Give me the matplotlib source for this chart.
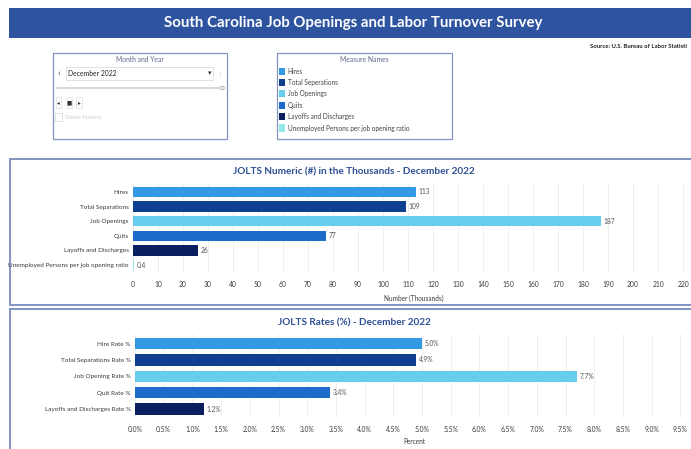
import matplotlib.pyplot as plt
from matplotlib.patches import Rectangle, Circle
from matplotlib.ticker import FuncFormatter

W, H = 691, 449

# data
month_label = "December 2022"
numeric_names = ["Hires", "Total Separations", "Job Openings", "Quits",
                 "Layoffs and Discharges", "Unemployed Persons per job opening ratio"]
numeric_values = [113, 109, 187, 77, 26, 0.4]
numeric_ticks = list(range(0, 221, 10))

rate_names = ["Hire Rate %", "Total Separations Rate %", "Job Opening Rate %",
              "Quit Rate %", "Layoffs and Discharges Rate %"]
rate_values = [5.0, 4.9, 7.7, 3.4, 1.2]
rate_ticks = [i * 0.5 for i in range(20)]

legend_names = ["Hires", "Total Seperations", "Job Openings", "Quits",
                "Layoffs and Discharges", "Unemployed Persons per job opening ratio"]
colors = ["#3399E3", "#0E3F91", "#66CDED", "#1C6DCB", "#0B1F5E", "#8EEBE6"]

NAVY = "#2C4F95"
TEXT = "#3a3a3a"
BORDER = "#8294C2"

plt.rcParams["font.family"] = ["Lato", "DejaVu Sans"]


def fx(x):
    return x / W


def fy(y):
    return 1 - y / H


def box(fig, x0, y0, x1, y1, **kw):
    r = Rectangle((fx(x0), fy(y1)), fx(x1) - fx(x0), fy(y0) - fy(y1),
                  transform=fig.transFigure, **kw)
    fig.add_artist(r)
    return r


def txt(fig, x, y, s, **kw):
    kw.setdefault("va", "center")
    fig.text(fx(x), fy(y), s, **kw)


def bar_panel(fig, top, bottom, x0_px, px_per_unit, centers0, step,
              names, values, ticks, fmt, title, xlabel, title_y, xlabel_y):
    ax = fig.add_axes([fx(x0_px), fy(bottom), fx(W) - fx(x0_px), fy(top) - fy(bottom)])
    ax.patch.set_visible(False)
    n = len(values)
    ypos = list(range(n))
    ax.barh(ypos, values, height=0.7, color=colors[:n], edgecolor="none", zorder=3)
    ax.set_xlim(0, (W - x0_px) / px_per_unit)
    ax.set_ylim((bottom - centers0) / step, (top - centers0) / step)
    ax.set_xticks(ticks)
    ax.xaxis.set_major_formatter(FuncFormatter(fmt))
    ax.set_yticks(ypos)
    ax.set_yticklabels(names)
    ax.tick_params(axis="x", length=0, labelsize=4.9, labelcolor=TEXT, pad=6)
    ax.tick_params(axis="y", length=0, labelsize=4.6, labelcolor=TEXT, pad=3)
    ax.grid(axis="x", color="#ececec", linewidth=0.6, zorder=0)
    for s in ax.spines.values():
        s.set_visible(False)
    for i, v in enumerate(values):
        ax.text(v + 3 / px_per_unit, i, fmt(v, None),
                fontsize=4.8, color="#555555", va="center", ha="left")
    txt(fig, 354, title_y, title, ha="center", fontsize=7.2, fontweight="bold", color=NAVY)
    txt(fig, 414, xlabel_y, xlabel, ha="center", fontsize=4.7, color=TEXT)
    return ax


def num_fmt(v, pos):
    return "%g" % v


def pct_fmt(v, pos):
    return "%.1f%%" % v


fig = plt.figure(figsize=(W / 100, H / 100), dpi=100)
fig.patch.set_facecolor("white")

# header banner
box(fig, 9, 8, W, 38, facecolor="#2E54A0", edgecolor="none")
txt(fig, 353, 23, "South Carolina Job Openings and Labor Turnover Survey",
    ha="center", fontsize=10.8, fontweight="bold", color="white")
txt(fig, 590, 46, "Source: U.S. Bureau of Labor Statisti", ha="left",
    fontsize=4.3, color="#222222", fontweight="bold")

# month filter card
box(fig, 53, 53, 227, 139, facecolor="white", edgecolor=BORDER, linewidth=0.9)
txt(fig, 140, 59, "Month and Year", ha="center", fontsize=4.9, color="#5d6a8c")
box(fig, 66, 67, 213, 80, facecolor="white", edgecolor="#dddddd", linewidth=0.6)
txt(fig, 59, 73, "\u2039", ha="center", fontsize=7, color="#555555")
txt(fig, 68, 73, month_label, ha="left", fontsize=4.9, color="#222222")
txt(fig, 210, 73, "\u25be", ha="center", fontsize=5, color="#333333")
txt(fig, 220, 73, "\u203a", ha="center", fontsize=7, color="#cccccc")
fig.add_artist(plt.Line2D([fx(57), fx(220)], [fy(88), fy(88)],
                          transform=fig.transFigure, color="#d0d0d0", linewidth=1.2))
fig.add_artist(Circle((fx(222), fy(88)), 2.2 / W, transform=fig.transFigure,
                      facecolor="white", edgecolor="#999999", linewidth=0.6))
for xb, sym in ((58.5, "\u25c2"), (69.5, "\u25a0"), (79, "\u25b8")):
    box(fig, xb - 3, 97, xb + 3, 108, facecolor="white", edgecolor="#dddddd", linewidth=0.5)
    txt(fig, xb, 102.5, sym, ha="center", fontsize=4, color="#333333")
box(fig, 55, 113, 62, 121, facecolor="white", edgecolor="#dddddd", linewidth=0.6)
txt(fig, 65, 117, "Show history", ha="left", fontsize=4.6, color="#cccccc")

# legend card
box(fig, 277, 53, 452, 139, facecolor="white", edgecolor=BORDER, linewidth=0.9)
txt(fig, 364, 59, "Measure Names", ha="center", fontsize=4.9, color="#5d6a8c")
for i, (name, c) in enumerate(zip(legend_names, colors)):
    yc = 71 + i * 11.4
    box(fig, 278.5, yc - 3.5, 285, yc + 3.5, facecolor=c, edgecolor="none")
    txt(fig, 287.5, yc, name, ha="left", fontsize=4.7, color="#444444")

# panels (drawn below the chart axes)
box(fig, 10, 159, W + 2, 305, facecolor="white", edgecolor=BORDER, linewidth=1.4, zorder=-1)
box(fig, 10, 309, W + 2, H + 2, facecolor="white", edgecolor=BORDER, linewidth=1.4, zorder=-1)

bar_panel(fig, 183, 273, 133, 2.5, 192, 14.6,
          numeric_names, numeric_values, numeric_ticks, num_fmt,
          "JOLTS Numeric (#) in the Thousands - " + month_label,
          "Number (Thousands)", 172, 298)
bar_panel(fig, 334, 418, 135, 57.4, 343.5, 16.4,
          rate_names, rate_values, rate_ticks, pct_fmt,
          "JOLTS Rates (%) - " + month_label,
          "Percent", 323, 442)

plt.savefig("out.png", dpi=100)
